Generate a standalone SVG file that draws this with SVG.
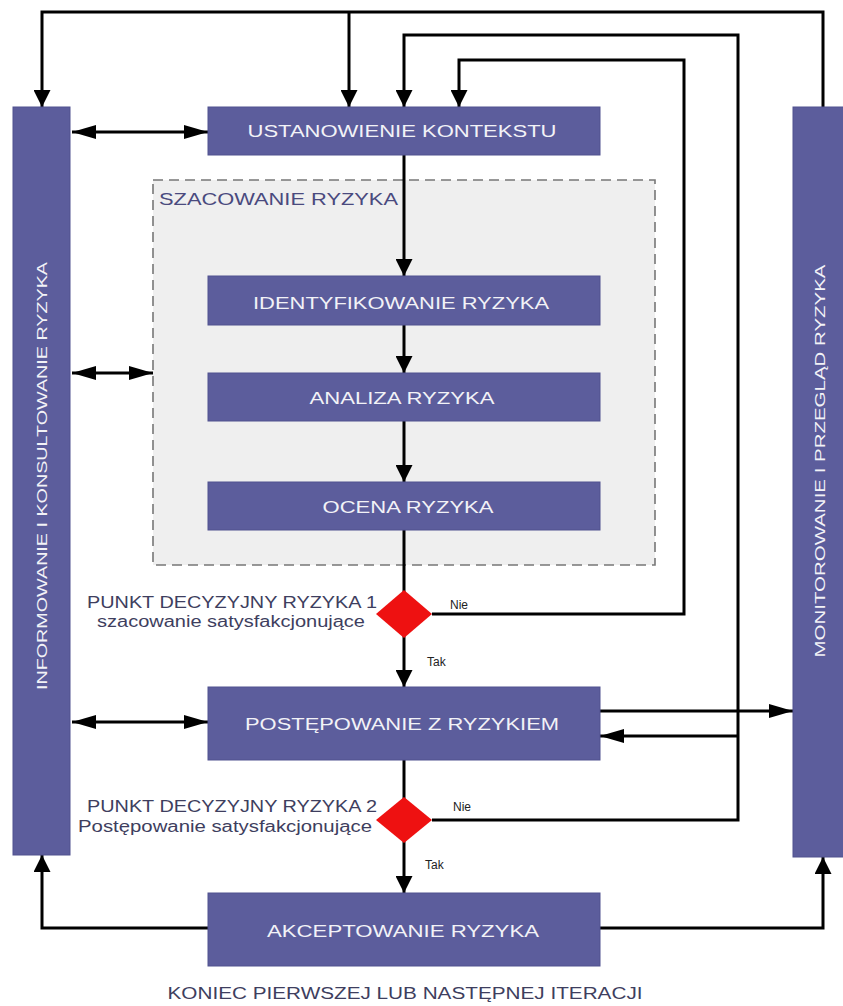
<svg xmlns="http://www.w3.org/2000/svg" width="843" height="1006" viewBox="0 0 843 1006">
  <style>
    .box { fill: #5c5d9c; stroke: #50528f; stroke-width: 1; }
    .bt { font-family: "Liberation Sans", Arial, sans-serif; font-size: 16px; fill: #f2f2f7; text-anchor: middle; }
    .vt { font-family: "Liberation Sans", Arial, sans-serif; font-size: 15px; fill: #f2f2f7; text-anchor: middle; }
    .lbl { font-family: "Liberation Sans", Arial, sans-serif; font-size: 16px; fill: #3e3e5e; text-anchor: middle; }
    .sm { font-family: "Liberation Sans", Arial, sans-serif; font-size: 12px; fill: #222; }
    .ln { fill: none; stroke: #000; stroke-width: 3; }
    .dia { fill: #ee1111; }
  </style>
  <defs>
    <marker id="arrV" viewBox="0 0 17 17" refX="17" refY="8.5" markerWidth="17" markerHeight="17" markerUnits="userSpaceOnUse" orient="auto-start-reverse">
      <path d="M0,0 L17,8.5 L0,17 z" fill="#000"/>
    </marker>
    <marker id="arrH" viewBox="0 0 24 14" refX="24" refY="7" markerWidth="24" markerHeight="14" markerUnits="userSpaceOnUse" orient="auto-start-reverse">
      <path d="M0,0 L24,7 L0,14 z" fill="#000"/>
    </marker>
  </defs>
  <rect width="843" height="1006" fill="#ffffff"/>

  <g id="szacowanie">
    <rect x="153" y="180" width="502" height="385" fill="#efefef" stroke="#777" stroke-width="1.6" stroke-dasharray="10,6"/>
    <text x="159" y="205" font-family="Liberation Sans, Arial, sans-serif" font-size="17" fill="#4a4a7e" textLength="239" lengthAdjust="spacingAndGlyphs">SZACOWANIE RYZYKA</text>
  </g>

  <g id="connectors">
    <path class="ln" d="M823,107 V12 H42 V107" marker-end="url(#arrV)"/>
    <path class="ln" d="M349,12 V107" marker-end="url(#arrV)"/>
    <path class="ln" d="M432,820 H738 V35 H404 V107" marker-end="url(#arrV)"/>
    <path class="ln" d="M432,614 H684 V60 H459 V107" marker-end="url(#arrV)"/>
    <path class="ln" d="M404,155 V276" marker-end="url(#arrV)"/>
    <path class="ln" d="M404,325 V373" marker-end="url(#arrV)"/>
    <path class="ln" d="M404,421 V482" marker-end="url(#arrV)"/>
    <path class="ln" d="M404,530 V592"/>
    <path class="ln" d="M404,636 V687" marker-end="url(#arrV)"/>
    <path class="ln" d="M404,760 V799"/>
    <path class="ln" d="M404,841 V893" marker-end="url(#arrV)"/>
    <path class="ln" d="M72,132 H208" marker-start="url(#arrH)" marker-end="url(#arrH)"/>
    <path class="ln" d="M72,373 H153" marker-start="url(#arrH)" marker-end="url(#arrH)"/>
    <path class="ln" d="M72,722 H208" marker-start="url(#arrH)" marker-end="url(#arrH)"/>
    <path class="ln" d="M600,711 H793" marker-end="url(#arrH)"/>
    <path class="ln" d="M738,736 H600" marker-end="url(#arrH)"/>
    <path class="ln" d="M208,928 H42 V855" marker-end="url(#arrV)"/>
    <path class="ln" d="M600,928 H823 V857" marker-end="url(#arrV)"/>
  </g>

  <g id="informowanie">
    <rect class="box" x="13" y="107" width="57" height="748"/>
    <text class="vt" transform="translate(47,476) rotate(-90)" textLength="428" lengthAdjust="spacingAndGlyphs">INFORMOWANIE I KONSULTOWANIE RYZYKA</text>
  </g>
  <g id="monitorowanie">
    <rect class="box" x="793" y="107" width="52" height="750"/>
    <text class="vt" transform="translate(825,461) rotate(-90)" textLength="393" lengthAdjust="spacingAndGlyphs">MONITOROWANIE I PRZEGLĄD RYZYKA</text>
  </g>

  <g id="ustanowienie">
    <rect class="box" x="208" y="107" width="392" height="48"/>
    <text class="bt" x="402" y="137" textLength="309" lengthAdjust="spacingAndGlyphs">USTANOWIENIE KONTEKSTU</text>
  </g>
  <g id="identyfikowanie">
    <rect class="box" x="208" y="276" width="392" height="49"/>
    <text class="bt" x="401" y="309" textLength="296" lengthAdjust="spacingAndGlyphs">IDENTYFIKOWANIE RYZYKA</text>
  </g>
  <g id="analiza">
    <rect class="box" x="208" y="373" width="392" height="48"/>
    <text class="bt" x="402" y="404" textLength="185" lengthAdjust="spacingAndGlyphs">ANALIZA RYZYKA</text>
  </g>
  <g id="ocena">
    <rect class="box" x="208" y="482" width="392" height="48"/>
    <text class="bt" x="408" y="513" textLength="171" lengthAdjust="spacingAndGlyphs">OCENA RYZYKA</text>
  </g>

  <g id="decyzja1">
    <path class="dia" d="M404,590 L432,614 L404,638 L376,614 z"/>
    <text class="lbl" x="232" y="608" textLength="290" lengthAdjust="spacingAndGlyphs">PUNKT DECYZYJNY RYZYKA 1</text>
    <text class="lbl" x="231" y="627" font-size="15" textLength="268" lengthAdjust="spacingAndGlyphs">szacowanie satysfakcjonujące</text>
    <text class="sm" x="450" y="609">Nie</text>
    <text class="sm" x="427" y="666">Tak</text>
  </g>

  <g id="postepowanie">
    <rect class="box" x="208" y="687" width="392" height="73"/>
    <text class="bt" x="402" y="730" textLength="314" lengthAdjust="spacingAndGlyphs">POSTĘPOWANIE Z RYZYKIEM</text>
  </g>

  <g id="decyzja2">
    <path class="dia" d="M404,797 L432,820 L404,843 L376,820 z"/>
    <text class="lbl" x="232" y="812" textLength="290" lengthAdjust="spacingAndGlyphs">PUNKT DECYZYJNY RYZYKA 2</text>
    <text class="lbl" x="225" y="832" font-size="15" textLength="294" lengthAdjust="spacingAndGlyphs">Postępowanie satysfakcjonujące</text>
    <text class="sm" x="453" y="811">Nie</text>
    <text class="sm" x="425" y="869">Tak</text>
  </g>

  <g id="akceptowanie">
    <rect class="box" x="208" y="893" width="392" height="73"/>
    <text class="bt" x="403" y="937" textLength="272" lengthAdjust="spacingAndGlyphs">AKCEPTOWANIE RYZYKA</text>
  </g>

  <g id="koniec">
    <text class="lbl" x="405" y="999" font-size="15" fill="#333" textLength="475" lengthAdjust="spacingAndGlyphs">KONIEC PIERWSZEJ LUB NASTĘPNEJ ITERACJI</text>
  </g>
</svg>
